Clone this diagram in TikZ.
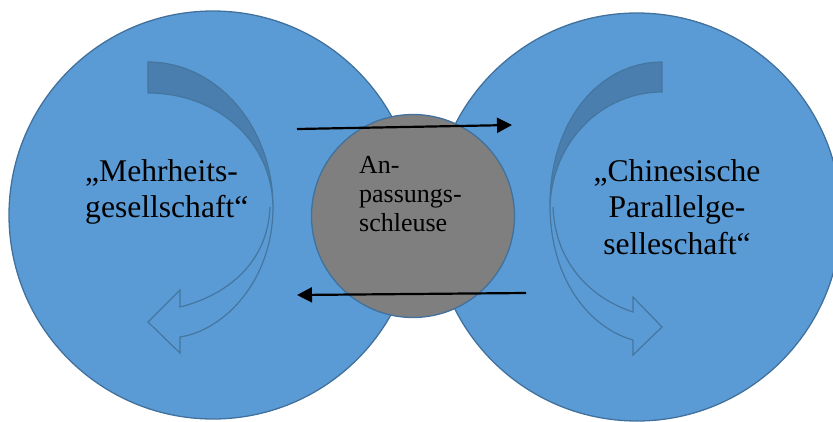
\documentclass[tikz,border=0pt]{standalone}
\usepackage{fontspec}
\setmainfont{Liberation Serif}
\usetikzlibrary{arrows.meta}
\definecolor{ringblue}{HTML}{5B9BD5}
\definecolor{ringline}{HTML}{41719C}
\definecolor{lockgray}{HTML}{7F7F7F}
\definecolor{bendblue}{HTML}{4A7EAE}
\definecolor{bendline}{HTML}{44769F}
\begin{document}
\begin{tikzpicture}[x=1pt, y=-1pt,
  society/.style = {draw=ringline, fill=ringblue, circle, line width=1.3pt, minimum size=408pt, inner sep=0pt},
  lock/.style = {draw=ringline, fill=lockgray, circle, line width=1.3pt, minimum size=203pt, inner sep=0pt},
  flow/.style = {line width=2.2pt, -{Triangle[length=15pt, width=15pt]}},
  curlarrow/.style = {draw=bendline, line width=1.2pt, line join=miter},
  big/.style = {font=\fontsize{31.6}{36.5}\selectfont, inner sep=0pt},
  small/.style = {font=\fontsize{26}{29}\selectfont, inner sep=0pt, align=left}]
		\useasboundingbox (0,0) rectangle (833,421);
		\node[society] (major) at (213,215) {};
		\node[society] (china) at (637,217) {};
		\draw[curlarrow, fill=bendblue] (148,62) .. controls (217,62) and (273,127) .. (273,207) .. controls (272,140) and (216,93) .. (148,93) -- cycle;
		\draw[curlarrow] (273,207) .. controls (273,280) and (225,330) .. (180,337) -- (180,353) -- (148,322) -- (180,290) -- (180,307) .. controls (228,295) and (268,262) .. (270,207);
		\draw[curlarrow, fill=bendblue] (662,62) .. controls (600,62) and (550,120) .. (550,205) .. controls (553,140) and (603,92) .. (662,92) -- cycle;
		\draw[curlarrow] (550,205) .. controls (550,280) and (590,328) .. (633,340) -- (633,355) -- (662,327) -- (633,297) -- (633,312) .. controls (590,298) and (555,262) .. (553,207);
		\node[lock] (gate) at (413,216) {};
		\coordinate (inA) at (297,129);
		\coordinate (inB) at (512,125);
		\coordinate (outA) at (526,293);
		\coordinate (outB) at (297,295);
		\draw[flow] (inA) -- (inB);
		\draw[flow] (outA) -- (outB);
		\node[big, align=left, anchor=north west] (majortext) at (85,159) {„Mehrheits-\\gesellschaft“};
		\node[big, align=center, anchor=north] (chinatext) at (677,159) {„Chinesische\\Parallelge-\\selleschaft“};
		\node[small, anchor=north west] (gatetext) at (359,156) {An-\\passungs-\\schleuse};
\end{tikzpicture}
\end{document}
